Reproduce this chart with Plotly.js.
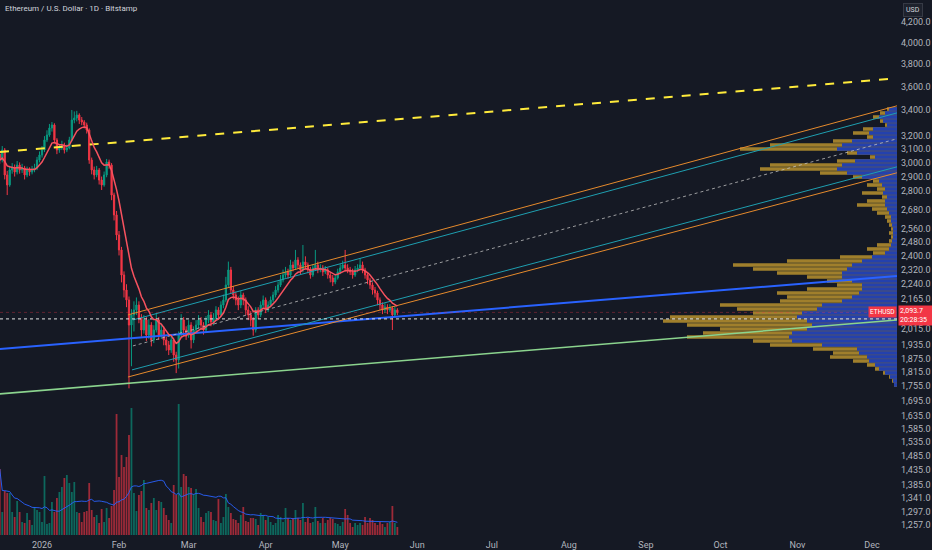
<!DOCTYPE html>
<html><head><meta charset="utf-8">
<script src="https://cdn.plot.ly/plotly-3.0.1.min.js"></script>
<style>html,body{margin:0;padding:0;background:#151924;}#chart{width:932px;height:550px;}</style>
</head><body><div id="chart"></div>
<script>
// ---------- DATA ----------
const firstDate = [2025, 11, 15]; // Dec 15 2025 (UTC, month 0-based)
const openFirst = 3060;
const close = [3017,3091,2911,2842,2946,2960,2932,2981,2946,2960,
 2911,2946,2932,2946,2960,3017,3054,3091,3166,3204,
 3258,3282,3166,3091,3105,3128,3091,3105,3166,3321,
 3337,3361,3321,3305,3282,3242,3017,2946,2911,2946,
 2876,2842,2911,3003,2981,2774,2645,2521,2432,2290,
 2209,2157,2031,2081,2106,2131,2066,2007,2056,1983,
 2031,1960,2007,2056,1983,2007,1960,1936,1913,1960,
 1890,1868,1983,2056,2007,1983,2031,1960,2007,2031,
 2056,2031,2007,2056,2081,2046,2066,2106,2081,2131,
 2157,2236,2318,2209,2183,2157,2131,2183,2157,2106,
 2081,2056,2007,2106,2081,2131,2157,2106,2131,2157,
 2183,2209,2236,2263,2290,2307,2290,2346,2329,2374,
 2346,2318,2363,2346,2318,2290,2329,2346,2318,2329,
 2307,2318,2290,2274,2252,2274,2307,2329,2346,2329,
 2318,2307,2290,2318,2329,2346,2318,2290,2263,2236,
 2209,2193,2157,2131,2106,2121,2106,2116,2081,2106,
 2093.7];
const high = [3090,3120,3105,2940,2975,2995,2985,3010,3000,2990,
 2975,2970,2965,2975,2990,3040,3080,3120,3195,3240,
 3290,3305,3295,3180,3135,3160,3145,3130,3190,3402,
 3390,3395,3375,3345,3320,3300,3255,3035,2970,2975,
 2960,2900,2935,3025,3020,2995,2790,2670,2545,2450,
 2310,2240,2175,2110,2150,2170,2150,2085,2080,2070,
 2060,2045,2030,2090,2070,2035,2025,1975,1955,1980,
 1970,1905,2000,2085,2070,2025,2055,2045,2025,2055,
 2080,2070,2045,2075,2105,2095,2090,2125,2120,2150,
 2185,2280,2365,2335,2230,2200,2175,2205,2195,2170,
 2125,2100,2070,2120,2120,2150,2180,2170,2150,2175,
 2200,2230,2255,2290,2320,2335,2325,2375,2365,2432,
 2390,2360,2461,2395,2360,2335,2350,2432,2365,2350,
 2345,2340,2330,2305,2290,2295,2325,2350,2370,2432,
 2350,2335,2325,2340,2350,2385,2365,2330,2300,2275,
 2250,2225,2205,2170,2145,2140,2135,2135,2125,2125,
 2115];
const low = [2990,3000,2880,2774,2830,2920,2900,2915,2920,2925,
 2880,2895,2905,2915,2930,2945,3000,3035,3075,3150,
 3190,3230,3140,3060,3070,3090,3065,3075,3095,3155,
 3295,3310,3290,3280,3255,3215,2990,2915,2880,2895,
 2845,2808,2830,2895,2955,2740,2610,2490,2400,2250,
 2170,2120,1745,1840,2000,2080,2040,1975,1990,1955,
 1965,1930,1945,1995,1960,1965,1935,1910,1890,1900,
 1860,1810,1830,1970,1985,1960,1970,1920,1945,1990,
 2015,2010,1985,1995,2040,2025,2030,2050,2060,2070,
 2115,2145,2220,2190,2160,2130,2105,2115,2130,2080,
 2055,2025,1980,1995,2060,2070,2115,2090,2095,2120,
 2145,2170,2195,2225,2250,2275,2270,2280,2310,2320,
 2325,2295,2305,2325,2300,2270,2280,2315,2300,2305,
 2285,2295,2270,2250,2230,2240,2265,2295,2320,2310,
 2300,2290,2270,2280,2305,2320,2300,2270,2240,2215,
 2185,2170,2130,2105,2085,2090,2085,2095,2007,2070,
 2080];
const volume = [66,23,44,42,42,23,18,34,23,13,
 12,22,15,10,28,25,23,13,59,11,
 12,33,23,37,43,48,57,60,52,43,
 53,23,22,13,23,24,52,25,18,20,
 12,26,13,27,17,29,45,121,58,80,
 68,78,100,127,42,24,40,44,55,27,
 25,32,37,25,34,33,27,20,15,12,
 50,40,131,48,61,59,48,47,41,46,
 27,18,13,22,24,23,15,14,36,12,
 18,41,28,22,16,15,12,20,28,14,
 13,17,17,16,10,22,20,15,18,13,
 10,12,20,18,13,27,17,15,17,25,
 17,15,32,13,17,12,13,28,14,12,
 17,12,15,17,16,12,11,9,13,26,
 20,12,8,12,10,12,10,18,12,17,
 15,12,10,13,11,8,12,13,29,12,
 8];

const priceTicks = [4200,4000,3800,3600,3400,3200,3100,3000,2900,2800,2680,2560,2480,2400,2320,2240,2165,2015,1935,1875,1815,1755,1695,1635,1585,1535,1485,1435,1385,1341,1297,1257];
const monthTicks = ['2026-01-01','2026-02-01','2026-03-01','2026-04-01','2026-05-01','2026-06-01','2026-07-01','2026-08-01','2026-09-01','2026-10-01','2026-11-01','2026-12-01'];
const monthLabels = ['2026','Feb','Mar','Apr','May','Jun','Jul','Aug','Sep','Oct','Nov','Dec'];

// visible range volume profile (rows top -> bottom)
const profileTop = 3426, profileBottom = 1751;
const profileTotal = [10,17,24,17,12,34,44,30,64,127,
 157,50,27,60,127,137,77,44,24,30,
 20,35,15,30,40,25,20,12,10,8,
 6,8,6,8,20,30,24,57,110,164,
 144,120,90,70,60,90,120,110,117,177,
 160,144,227,234,210,177,194,210,144,127,
 84,64,67,44,30,22,14,8,5,3];
const profileBlue = [8,12,18,14,10,24,28,24,45,55,
 60,40,22,42,55,60,50,35,18,15,
 12,14,10,12,12,10,8,6,6,5,
 4,4,4,5,6,8,12,25,35,45,
 50,55,55,45,35,35,38,45,55,75,
 80,95,100,90,85,90,105,108,105,75,
 40,38,30,28,22,18,12,7,4,3];

// drawings (anchor times / prices)
const yellowTime = ['2025-12-15 02:00','2026-12-11 01:00'], yellowPrice = [3076, 3670];
const blueTime = ['2025-12-15 02:00','2026-12-11 01:00'], bluePrice = [1918, 2285];
const greenTime = ['2025-12-15 02:00','2026-12-11 01:00'], greenPrice = [1722, 2056];
const upOrangeTime = ['2026-02-04 14:00','2026-12-12 07:00'], upOrangePrice = [2081, 3443];
const upCyanTime = ['2026-02-06 14:00','2026-12-12 07:00'], upCyanPrice = [2056, 3385];
const midTime = ['2026-02-06 14:00','2026-12-12 07:00'], midPrice = [1932, 3181];
const loCyanTime = ['2026-02-06 05:00','2026-12-12 07:00'], loCyanPrice = [1824, 2974];
const loOrangeTime = ['2026-02-04 14:00','2026-12-12 07:00'], loOrangePrice = [1793, 2932];
const hLevel = 2061;
const xRange = ['2025-12-15 02:24','2026-12-11 01:30'];
const priceRange = [1227.6, 4428.6];

// ---------- BUILD ----------
const N = close.length;
const dates = [];
for (let i = 0; i < N; i++) {
  const d = new Date(Date.UTC(firstDate[0], firstDate[1], firstDate[2] + i));
  dates.push(d.toISOString().slice(0, 10));
}
const open = [openFirst].concat(close.slice(0, -1));
const emaLen = 9, k = 2 / (emaLen + 1);
const ema = []; let e = close[0];
close.forEach((c, i) => { e = i === 0 ? c : c * k + e * (1 - k); ema.push(e); });
const volMA = volume.map((v, i) => { const s = volume.slice(Math.max(0, i - 19), i + 1); return s.reduce((a, b) => a + b, 0) / s.length; });
const volColors = close.map((c, i) => c >= open[i] ? 'rgba(8,153,129,0.62)' : 'rgba(242,54,69,0.62)');

const lo10 = Math.log10(priceRange[0]), hi10 = Math.log10(priceRange[1]);
const pTop = Math.log10(profileTop), pBot = Math.log10(profileBottom);
const rows = profileTotal.length, step = (pTop - pBot) / rows;
const rowY = profileTotal.map((_, i) => pTop - (i + 0.5) * step);

const fmt = v => v.toLocaleString('en-US', {minimumFractionDigits: 1, maximumFractionDigits: 1});
const last = close[N - 1];

function line(t, p, color, width, dash) {
  return {type: 'scatter', mode: 'lines', x: t, y: p, xaxis: 'x2', yaxis: 'y2',
    line: {color: color, width: width, dash: dash || 'solid'}, hoverinfo: 'skip'};
}

const traces = [
  // profile on base axes (drawn beneath everything)
  {type: 'bar', orientation: 'h', x: profileTotal, y: rowY, width: step * 0.9, xaxis: 'x', yaxis: 'y',
   marker: {color: 'rgba(184,146,46,0.85)', line: {width: 0}}, hoverinfo: 'skip'},
  {type: 'bar', orientation: 'h', x: profileBlue, y: rowY, width: step * 0.9, xaxis: 'x', yaxis: 'y',
   marker: {color: 'rgba(30,62,180,0.95)', line: {width: 0}}, hoverinfo: 'skip'},
  // volume
  {type: 'bar', x: dates, y: volume, xaxis: 'x2', yaxis: 'y3', width: 0.72 * 86400000,
   marker: {color: volColors, line: {width: 0}}, hoverinfo: 'skip'},
  {type: 'scatter', mode: 'lines', x: dates, y: volMA, xaxis: 'x2', yaxis: 'y3',
   line: {color: 'rgba(41,98,255,0.9)', width: 1}, hoverinfo: 'skip'},
  // drawings
  line(greenTime, greenPrice, '#8bd48e', 1.5),
  line(blueTime, bluePrice, '#2962ff', 2),
  line(loOrangeTime, loOrangePrice, '#e58a2c', 1),
  line(loCyanTime, loCyanPrice, '#1e9fb0', 1),
  line(midTime, midPrice, 'rgba(200,200,200,0.75)', 1, 'dot'),
  line(upCyanTime, upCyanPrice, '#1e9fb0', 1),
  line(upOrangeTime, upOrangePrice, '#e58a2c', 1),
  line(yellowTime, yellowPrice, '#ffeb3b', 2, 'dash'),
  line([xRange[0], xRange[1]], [last, last], 'rgba(242,54,69,0.35)', 1, 'dot'),
  line([xRange[0], xRange[1]], [hLevel, hLevel], 'rgba(230,230,230,0.8)', 1.2, 'dot'),
  // candles
  {type: 'candlestick', x: dates, open: open, high: high, low: low, close: close, xaxis: 'x2', yaxis: 'y2',
   increasing: {line: {color: '#089981', width: 1}, fillcolor: '#089981'},
   decreasing: {line: {color: '#f23645', width: 1}, fillcolor: '#f23645'},
   whiskerwidth: 0, hoverinfo: 'skip'},
  {type: 'scatter', mode: 'lines', x: dates, y: ema, xaxis: 'x2', yaxis: 'y2',
   line: {color: '#f7525f', width: 1.5}, hoverinfo: 'skip'}
];

const axFont = {family: 'Roboto, "Noto Sans", sans-serif', size: 9, color: '#b2b5be'};
const layout = {
  width: 932, height: 550,
  paper_bgcolor: '#151924', plot_bgcolor: '#151924',
  margin: {l: 0, r: 35, t: 0, b: 15},
  showlegend: false, hovermode: false, barmode: 'overlay', dragmode: false,
  xaxis: {range: [897, 0], visible: false, fixedrange: true},
  yaxis: {range: [lo10, hi10], visible: false, fixedrange: true},
  xaxis2: {overlaying: 'x', type: 'date', range: xRange, tickvals: monthTicks, ticktext: monthLabels,
    showgrid: false, zeroline: false, showline: false, ticks: '', tickfont: axFont, ticklabelstandoff: 3,
    rangeslider: {visible: false}, fixedrange: true},
  yaxis2: {overlaying: 'y', side: 'right', type: 'log', range: [lo10, hi10],
    tickvals: priceTicks, ticktext: priceTicks.map(fmt), showgrid: false, zeroline: false,
    showline: false, ticks: '', tickfont: axFont, ticklabelstandoff: 3, fixedrange: true},
  yaxis3: {overlaying: 'y', range: [0, 535], visible: false, fixedrange: true},
  annotations: [
    {xref: 'paper', yref: 'paper', x: 0, y: 1, xanchor: 'left', yanchor: 'top', xshift: 3, yshift: -2,
     text: 'Ethereum / U.S. Dollar · 1D · Bitstamp', showarrow: false,
     font: {family: 'Roboto, "Noto Sans", sans-serif', size: 8, color: '#d1d4dc'}},
    {xref: 'paper', yref: 'paper', x: 1, y: 1, xanchor: 'left', yanchor: 'top', xshift: 6, yshift: -3,
     text: 'USD', showarrow: false, bgcolor: '#1e222d', bordercolor: '#363a45', borderwidth: 1, borderpad: 2,
     font: {family: 'Roboto, "Noto Sans", sans-serif', size: 7, color: '#d1d4dc'}},
    {xref: 'paper', yref: 'y2', x: 1, y: Math.log10(last), xanchor: 'right', yanchor: 'middle',
     text: 'ETHUSD', showarrow: false, bgcolor: '#f23645', borderpad: 1,
     font: {family: 'Roboto, "Noto Sans", sans-serif', size: 6.5, color: '#ffffff'}},
    {xref: 'paper', yref: 'y2', x: 1, y: Math.log10(last), xanchor: 'left', yanchor: 'top', yshift: 7, xshift: 1,
     text: fmt(last) + '<br>20:28:35', showarrow: false, bgcolor: '#f23645', borderpad: 1, align: 'left',
     width: 32, font: {family: 'Roboto, "Noto Sans", sans-serif', size: 7, color: '#ffffff'}}
  ]
};
Plotly.newPlot('chart', traces, layout, {staticPlot: true, displayModeBar: false});
</script>
</body></html>
